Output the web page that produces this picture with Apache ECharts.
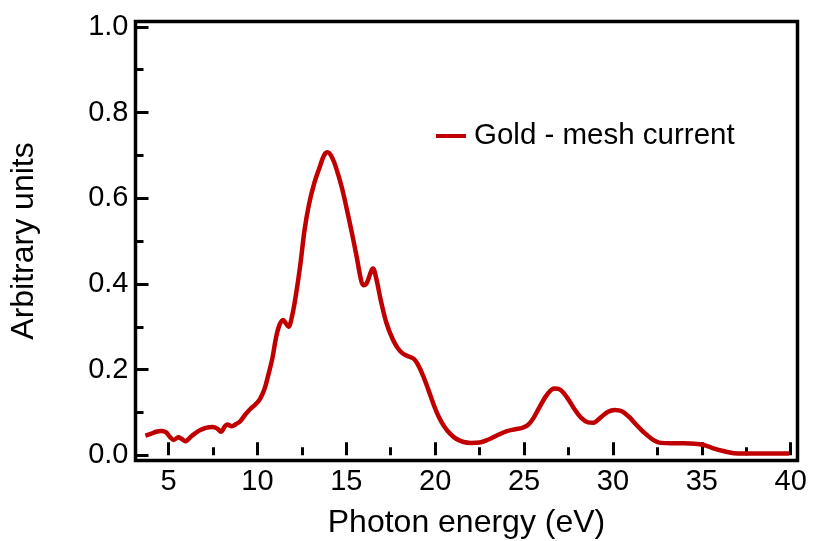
<!DOCTYPE html>
<html>
<head>
<meta charset="utf-8">
<script src="https://cdn.jsdelivr.net/npm/echarts@6/dist/echarts.min.js"></script>
<style>
  html, body { margin: 0; padding: 0; background: #fff; }
  #chart { width: 813px; height: 541px; }
</style>
</head>
<body>
<div id="chart"></div>
<script>
// Photon energy grid (eV) and the measured mesh current (arbitrary units)
const energy = [
  3.7, 4.0, 4.3, 4.6, 4.85, 5.1, 5.3, 5.55, 5.75, 5.95, 6.3, 6.7, 7.1, 7.5, 7.75, 7.95,
  8.15, 8.3, 8.55, 8.8, 9.05, 9.3, 9.6, 9.9, 10.15, 10.4, 10.6, 10.85, 11.05, 11.25,
  11.45, 11.6, 11.75, 11.95, 12.15, 12.4, 12.65, 12.9, 13.2, 13.5, 13.75, 13.95, 14.2,
  14.45, 14.75, 15.0, 15.3, 15.6, 15.8, 15.95, 16.15, 16.4, 16.5, 16.7, 16.95, 17.25,
  17.6, 17.9, 18.2, 18.55, 18.8, 19.0, 19.3, 19.6, 19.9, 20.2, 20.5, 20.85, 21.2, 21.6,
  22.0, 22.5, 23.0, 23.5, 24.0, 24.5, 24.9, 25.2, 25.5, 25.9, 26.3, 26.7, 27.0, 27.4,
  27.8, 28.2, 28.6, 28.9, 29.3, 29.7, 30.1, 30.5, 30.9, 31.3, 31.7, 32.2, 32.7, 33.3,
  34.0, 34.6, 35.1, 35.6, 36.2, 36.8, 37.4, 38.2, 39.0, 39.9
];
const meshCurrent = [
  0.046, 0.050, 0.055, 0.057, 0.054, 0.042, 0.036, 0.042, 0.038, 0.033, 0.045, 0.057, 0.064, 0.066, 0.062, 0.055,
  0.066, 0.072, 0.068, 0.073, 0.080, 0.094, 0.108, 0.119, 0.132, 0.155, 0.185, 0.228, 0.275, 0.305,
  0.316, 0.308, 0.300, 0.325, 0.370, 0.440, 0.525, 0.585, 0.635, 0.672, 0.700, 0.707, 0.695,
  0.668, 0.625, 0.580, 0.522, 0.460, 0.415, 0.397, 0.402, 0.430, 0.436, 0.410, 0.360, 0.310,
  0.272, 0.250, 0.237, 0.230, 0.225, 0.214, 0.188, 0.155, 0.120, 0.090, 0.068, 0.050, 0.038, 0.031,
  0.029, 0.030, 0.037, 0.047, 0.056, 0.061, 0.064, 0.070, 0.085, 0.115, 0.142, 0.156, 0.154, 0.136,
  0.110, 0.088, 0.077, 0.076, 0.088, 0.101, 0.106, 0.103, 0.090, 0.072, 0.055, 0.038, 0.029, 0.028,
  0.028, 0.027, 0.024, 0.017, 0.010, 0.005, 0.004, 0.004, 0.004, 0.004
];

// Tick positions
const xMajorTicks = [5, 10, 15, 20, 25, 30, 35, 40];
const xMinorTicks = [7.5, 12.5, 17.5, 22.5, 27.5, 32.5, 37.5];
const yMajorTicks = [0, 0.2, 0.4, 0.6, 0.8, 1.0];
const yMinorTicks = [0.1, 0.3, 0.5, 0.7, 0.9];

const seriesName = 'Gold - mesh current';
const xTitle = 'Photon energy (eV)';
const yTitle = 'Arbitrary units';

const FONT = '"Liberation Sans", Arial, Helvetica, sans-serif';
const X_MIN = 3.144, X_MAX = 40.38;
const Y_MIN = -0.0121, Y_MAX = 1.0124;

const chart = echarts.init(document.getElementById('chart'), null, { renderer: 'canvas' });

const tickLine = { color: '#000', width: 3 };

chart.setOption({
  animation: false,
  backgroundColor: '#fff',
  textStyle: { fontFamily: FONT },
  grid: {
    left: 135.5, right: 15.5, top: 21.5, bottom: 80.5,
    containLabel: false, outerBoundsMode: 'none',
    show: true, borderColor: '#000', borderWidth: 3.5, backgroundColor: 'transparent'
  },
  legend: {
    show: true,
    left: 436, top: 121, padding: 0,
    icon: 'rect', itemWidth: 30, itemHeight: 4,
    textStyle: { fontFamily: FONT, fontSize: 29.5, color: '#000', padding: [0, 0, 0, 3] },
    data: [seriesName]
  },
  xAxis: [
    {
      type: 'value', min: X_MIN, max: X_MAX, position: 'bottom',
      axisLine: { show: false },
      splitLine: { show: false },
      axisTick: { show: true, inside: true, length: 13, lineStyle: tickLine, customValues: xMajorTicks },
      axisLabel: { show: true, margin: 7, fontSize: 29, color: '#000', fontFamily: FONT, customValues: xMajorTicks },
      name: xTitle, nameLocation: 'middle', nameGap: 47,
      nameTextStyle: { fontSize: 32, color: '#000', fontFamily: FONT }
    },
    {
      type: 'value', min: X_MIN, max: X_MAX, position: 'bottom',
      axisLine: { show: false },
      splitLine: { show: false },
      axisTick: { show: true, inside: true, length: 8, lineStyle: tickLine, customValues: xMinorTicks },
      axisLabel: { show: false }
    }
  ],
  yAxis: [
    {
      type: 'value', min: Y_MIN, max: Y_MAX, position: 'left',
      axisLine: { show: false },
      splitLine: { show: false },
      axisTick: { show: true, inside: true, length: 13, lineStyle: tickLine, customValues: yMajorTicks },
      axisLabel: {
        show: true, margin: 7, fontSize: 29, color: '#000', fontFamily: FONT,
        customValues: yMajorTicks, formatter: v => v.toFixed(1)
      },
      name: yTitle, nameLocation: 'middle', nameGap: 95, nameRotate: 90,
      nameTextStyle: { fontSize: 32, color: '#000', fontFamily: FONT }
    },
    {
      type: 'value', min: Y_MIN, max: Y_MAX, position: 'left',
      axisLine: { show: false },
      splitLine: { show: false },
      axisTick: { show: true, inside: true, length: 8, lineStyle: tickLine, customValues: yMinorTicks },
      axisLabel: { show: false }
    }
  ],
  series: [
    {
      name: seriesName,
      type: 'line',
      xAxisIndex: 0, yAxisIndex: 0,
      data: energy.map((e, i) => [e, meshCurrent[i]]),
      smooth: 0.35,
      showSymbol: false,
      symbol: 'none',
      lineStyle: { color: '#c00000', width: 4.5 },
      itemStyle: { color: '#c00000' }
    }
  ]
});
</script>
</body>
</html>
